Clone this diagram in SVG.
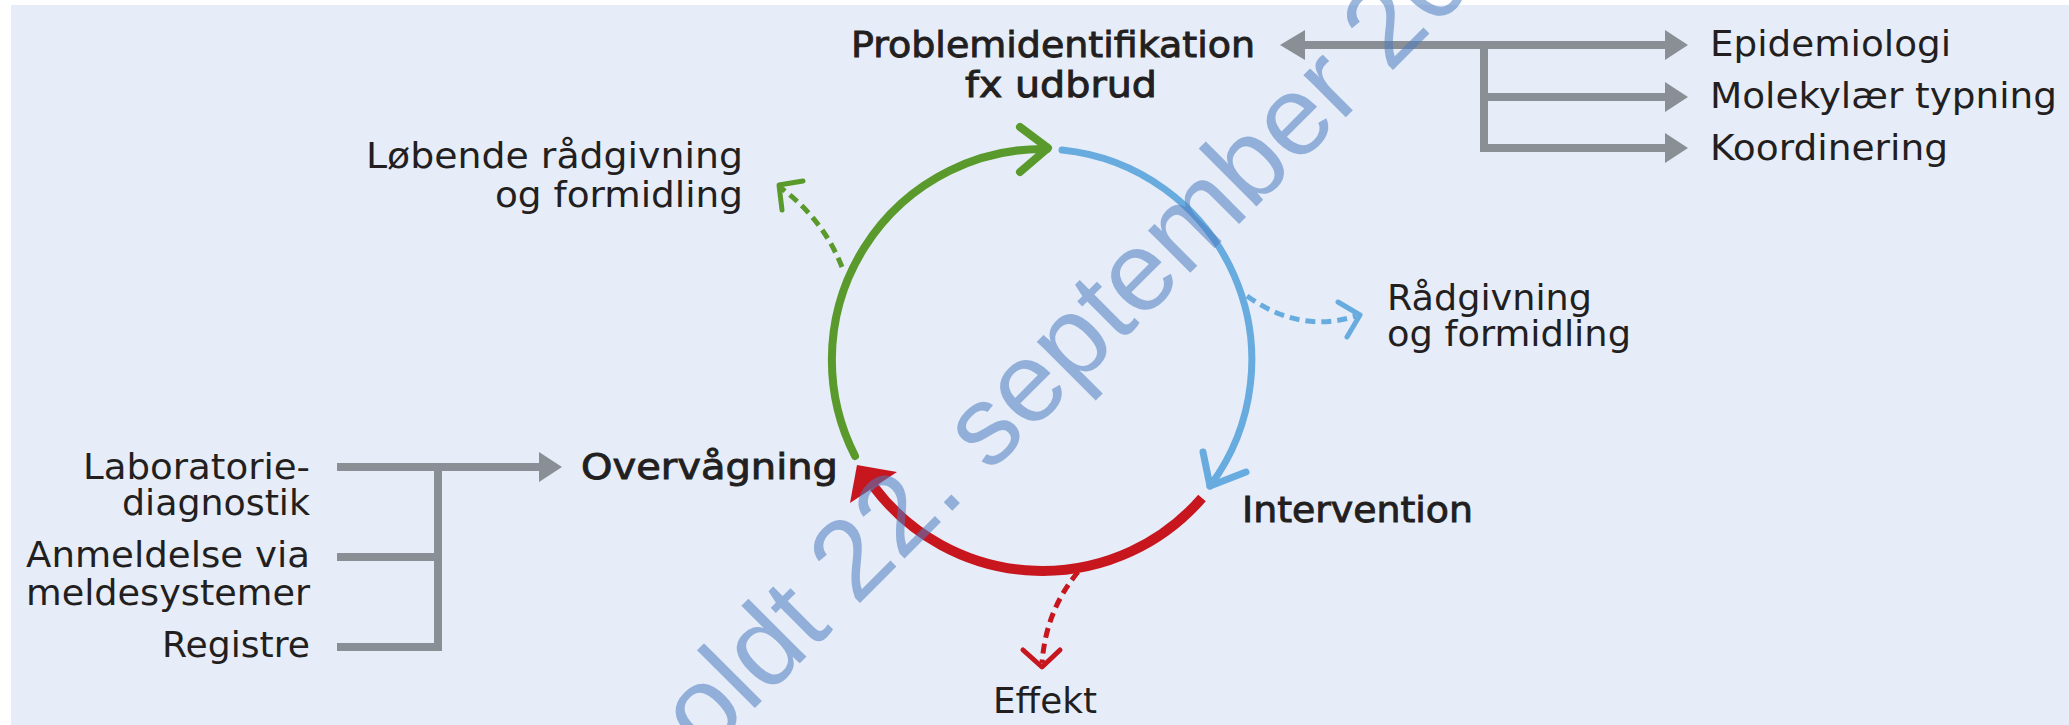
<svg xmlns="http://www.w3.org/2000/svg" width="2069" height="725" viewBox="0 0 2069 725">
<style>
  .t { font-family: "DejaVu Sans", "Liberation Sans", sans-serif; font-size: 35px; fill: #231f20; }
  .b { stroke: #231f20; stroke-width: 0.9px; }
  .gray { fill: none; stroke: #8a8e95; stroke-width: 8; }
  .grayhead { fill: #8a8e95; }
  .green { fill: none; stroke: #5a9a2c; stroke-width: 8; stroke-linecap: round; stroke-linejoin: round; }
  .blue { fill: none; stroke: #68acdf; stroke-width: 7; stroke-linecap: round; stroke-linejoin: round; }
  .red { fill: none; stroke: #c8161f; stroke-width: 10; }
  .dash { stroke-width: 5; stroke-dasharray: 10 6; stroke-linecap: butt; }
  .chev { stroke-width: 5; stroke-linecap: round; stroke-linejoin: round; }
  .wm { font-family: "Liberation Sans", Arial, sans-serif; font-size: 113px; fill: #4a7cc0; fill-opacity: 0.55; }
</style>
<rect x="0" y="0" width="2069" height="725" fill="#ffffff"/>
<rect x="11" y="5" width="2058" height="720" fill="#e6edf8"/>

<g id="connectors">
  <!-- cycle arcs -->
  <path class="green" d="M 855 456 A 211 211 0 0 1 1047 149"/>
  <polyline class="green" points="1020,127 1048,148 1020,172"/>
  <path class="blue" d="M 1062 150 A 211 211 0 0 1 1210 486"/>
  <polyline class="blue" points="1203,452 1210,486 1246,472"/>
  <path class="red" d="M 1202 498 A 211 211 0 0 1 874 487"/>
  <polygon fill="#c8161f" points="857,465 850,503 897,472"/>
  <!-- dashed side arrows -->
  <path class="green dash" d="M 842 267 Q 823 219 781 188"/>
  <polyline class="green chev" points="803,181 779,185 782,210"/>
  <path class="blue dash" d="M 1247 296 Q 1300 334 1356 316"/>
  <polyline class="blue chev" points="1338,302 1360,315 1347,337"/>
  <path class="red dash" stroke="#b51a2a" d="M 1078 572 Q 1046 610 1042 663"/>
  <polyline class="red chev" stroke="#b51a2a" points="1023,650 1042,667 1060,650"/>
  <!-- right gray connectors -->
  <polyline class="gray" points="1300,45 1668,45"/>
  <polyline class="gray" points="1484,45 1484,148 1668,148"/>
  <polyline class="gray" points="1484,97 1668,97"/>
  <polygon class="grayhead" points="1280,45 1305,30 1305,60"/>
  <polygon class="grayhead" points="1688,45 1665,30 1665,60"/>
  <polygon class="grayhead" points="1688,97 1665,82 1665,112"/>
  <polygon class="grayhead" points="1688,148 1665,133 1665,163"/>
  <!-- left gray connectors -->
  <polyline class="gray" points="337,467 542,467"/>
  <polyline class="gray" points="337,557 438,557"/>
  <polyline class="gray" points="337,647 438,647 438,467"/>
  <polygon class="grayhead" points="562,467 539,452 539,482"/>
</g>

<g id="node-problemidentifikation">
  <text class="t b" x="851" y="57" textLength="404" lengthAdjust="spacingAndGlyphs">Problemidentifikation</text>
  <text class="t b" x="965" y="97" textLength="192" lengthAdjust="spacingAndGlyphs">fx udbrud</text>
</g>
<g id="node-epidemiologi">
  <text class="t" x="1710" y="56" textLength="241" lengthAdjust="spacingAndGlyphs">Epidemiologi</text>
</g>
<g id="node-molekylaer">
  <text class="t" x="1710" y="108" textLength="347" lengthAdjust="spacingAndGlyphs">Molekylær typning</text>
</g>
<g id="node-koordinering">
  <text class="t" x="1710" y="160" textLength="238" lengthAdjust="spacingAndGlyphs">Koordinering</text>
</g>
<g id="node-loebende">
  <text class="t" x="366" y="168" textLength="377" lengthAdjust="spacingAndGlyphs">Løbende rådgivning</text>
  <text class="t" x="495" y="207" textLength="248" lengthAdjust="spacingAndGlyphs">og formidling</text>
</g>
<g id="node-raadgivning">
  <text class="t" x="1387" y="310" textLength="205" lengthAdjust="spacingAndGlyphs">Rådgivning</text>
  <text class="t" x="1387" y="346" textLength="244" lengthAdjust="spacingAndGlyphs">og formidling</text>
</g>
<g id="node-overvaagning">
  <text class="t b" x="581" y="479" textLength="257" lengthAdjust="spacingAndGlyphs">Overvågning</text>
</g>
<g id="node-intervention">
  <text class="t b" x="1242" y="522" textLength="231" lengthAdjust="spacingAndGlyphs">Intervention</text>
</g>
<g id="node-effekt">
  <text class="t" x="993" y="713" textLength="104" lengthAdjust="spacingAndGlyphs">Effekt</text>
</g>
<g id="node-laboratorie">
  <text class="t" x="83" y="479" textLength="227" lengthAdjust="spacingAndGlyphs">Laboratorie-</text>
  <text class="t" x="122" y="515" textLength="188" lengthAdjust="spacingAndGlyphs">diagnostik</text>
</g>
<g id="node-anmeldelse">
  <text class="t" x="26" y="567" textLength="284" lengthAdjust="spacingAndGlyphs">Anmeldelse via</text>
  <text class="t" x="26" y="605" textLength="284" lengthAdjust="spacingAndGlyphs">meldesystemer</text>
</g>
<g id="node-registre">
  <text class="t" x="162" y="657" textLength="148" lengthAdjust="spacingAndGlyphs">Registre</text>
</g>

<g id="watermark">
  <text class="wm" transform="translate(705,758) rotate(-45)">oldt 22. september 20</text>
</g>
</svg>
